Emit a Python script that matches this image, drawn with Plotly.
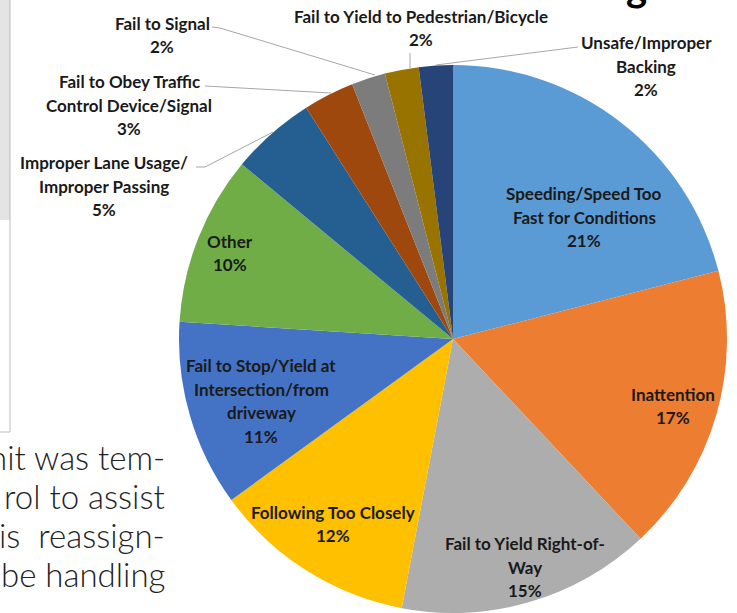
import plotly.graph_objects as go

W, H = 737, 613

# ---- data ----
categories = [
    "Speeding/Speed Too Fast for Conditions",
    "Inattention",
    "Fail to Yield Right-of-Way",
    "Following Too Closely",
    "Fail to Stop/Yield at Intersection/from driveway",
    "Other",
    "Improper Lane Usage/ Improper Passing",
    "Fail to Obey Traffic Control Device/Signal",
    "Fail to Signal",
    "Fail to Yield to Pedestrian/Bicycle",
    "Unsafe/Improper Backing",
]
percent = [21, 17, 15, 12, 11, 10, 5, 3, 2, 2, 2]
label_lines = [
    ["Speeding/Speed Too", "Fast for Conditions"],
    ["Inattention"],
    ["Fail to Yield Right-of-", "Way"],
    ["Following Too Closely"],
    ["Fail to Stop/Yield at", "Intersection/from", "driveway"],
    ["Other"],
    ["Improper Lane Usage/", "Improper Passing"],
    ["Fail to Obey Traffic", "Control Device/Signal"],
    ["Fail to Signal"],
    ["Fail to Yield to Pedestrian/Bicycle"],
    ["Unsafe/Improper", "Backing"],
]
body_text = ["nit was tem-", "rol to assist",
             "is&nbsp;&nbsp;reassign-", "be&nbsp;handling"]

# ---- styles / layout positions (pixels) ----
colors = ["#5B9BD5", "#ED7D31", "#ADADAD", "#FFC000", "#4472C4", "#70AD47",
          "#255E91", "#9E480E", "#7C7C7C", "#997300", "#264478"]
label_pos = [(584, 217), (673, 406), (525, 567), (333, 524), (261, 401), (230, 253),
             (104, 186), (129, 105), (162, 35), (421, 28), (646, 66)]
leaders = [None, None, None, None, None, None,
           [(196, 167), (205, 167), (273, 132)],
           [(205, 86), (331, 93)],
           [(212, 27), (220, 28), (375, 75)],
           [(410, 53), (410, 68)],
           [(578, 47), (436, 65)]]


def px(x):
    return x / W


def py(y):
    return 1 - y / H


fig = go.Figure(go.Pie(
    labels=categories,
    values=percent,
    sort=False,
    direction="clockwise",
    rotation=0,
    textinfo="none",
    hoverinfo="label+percent",
    marker=dict(colors=colors, line=dict(width=0)),
    domain=dict(x=[px(177), px(729)], y=[0, py(65)]),
    showlegend=False,
))

annotations = []
LH = 23.5
for lines, pct, (cx, cy) in zip(label_lines, percent, label_pos):
    all_lines = lines + [f"{pct}%"]
    n = len(all_lines)
    for i, t in enumerate(all_lines):
        y = cy + (i - (n - 1) / 2) * LH
        annotations.append(dict(
            x=px(cx), y=py(y), xref="paper", yref="paper",
            text=f"<b>{t}</b>", showarrow=False,
            xanchor="center", yanchor="middle",
            font=dict(family="Lato, Open Sans, sans-serif", size=17, color="#1a1a1a"),
        ))

for i, t in enumerate(body_text):
    annotations.append(dict(
        x=px(167), y=py(457 + i * 39), xref="paper", yref="paper",
        text=t, showarrow=False, xanchor="right", yanchor="middle",
        font=dict(family="Lato, Open Sans, sans-serif", size=33, color="#222222",
                  weight=300),
    ))

# clipped heading fragment at top
annotations.append(dict(
    x=px(636), y=py(-14), xref="paper", yref="paper", text="<b>g</b>",
    showarrow=False, xanchor="center", yanchor="middle",
    font=dict(family="Lato, sans-serif", size=40, color="#000000"),
))

shapes = []
for pts in leaders:
    if not pts:
        continue
    path = "M " + " L ".join(f"{px(x)},{py(y)}" for x, y in pts)
    shapes.append(dict(type="path", path=path, xref="paper", yref="paper",
                       line=dict(color="#A6A6A6", width=1)))

# remnants of neighbouring figure at left edge
shapes.append(dict(type="rect", xref="paper", yref="paper",
                   x0=px(0), x1=px(10), y0=py(220), y1=py(0),
                   fillcolor="#E4E4E4", line=dict(width=0), layer="below"))
shapes.append(dict(type="line", xref="paper", yref="paper",
                   x0=px(10), x1=px(10), y0=py(0), y1=py(432),
                   line=dict(color="#BDBDBD", width=1)))
shapes.append(dict(type="line", xref="paper", yref="paper",
                   x0=px(0), x1=px(10), y0=py(432), y1=py(432),
                   line=dict(color="#BDBDBD", width=1)))

fig.update_layout(
    width=W, height=H,
    margin=dict(l=0, r=0, t=0, b=0),
    paper_bgcolor="white", plot_bgcolor="white",
    annotations=annotations, shapes=shapes,
)

fig.write_html(
    "out.html",
    config={"displayModeBar": False},
    post_script="document.body.style.margin='0';document.body.style.padding='0';"
                "document.body.style.overflow='hidden';",
)
